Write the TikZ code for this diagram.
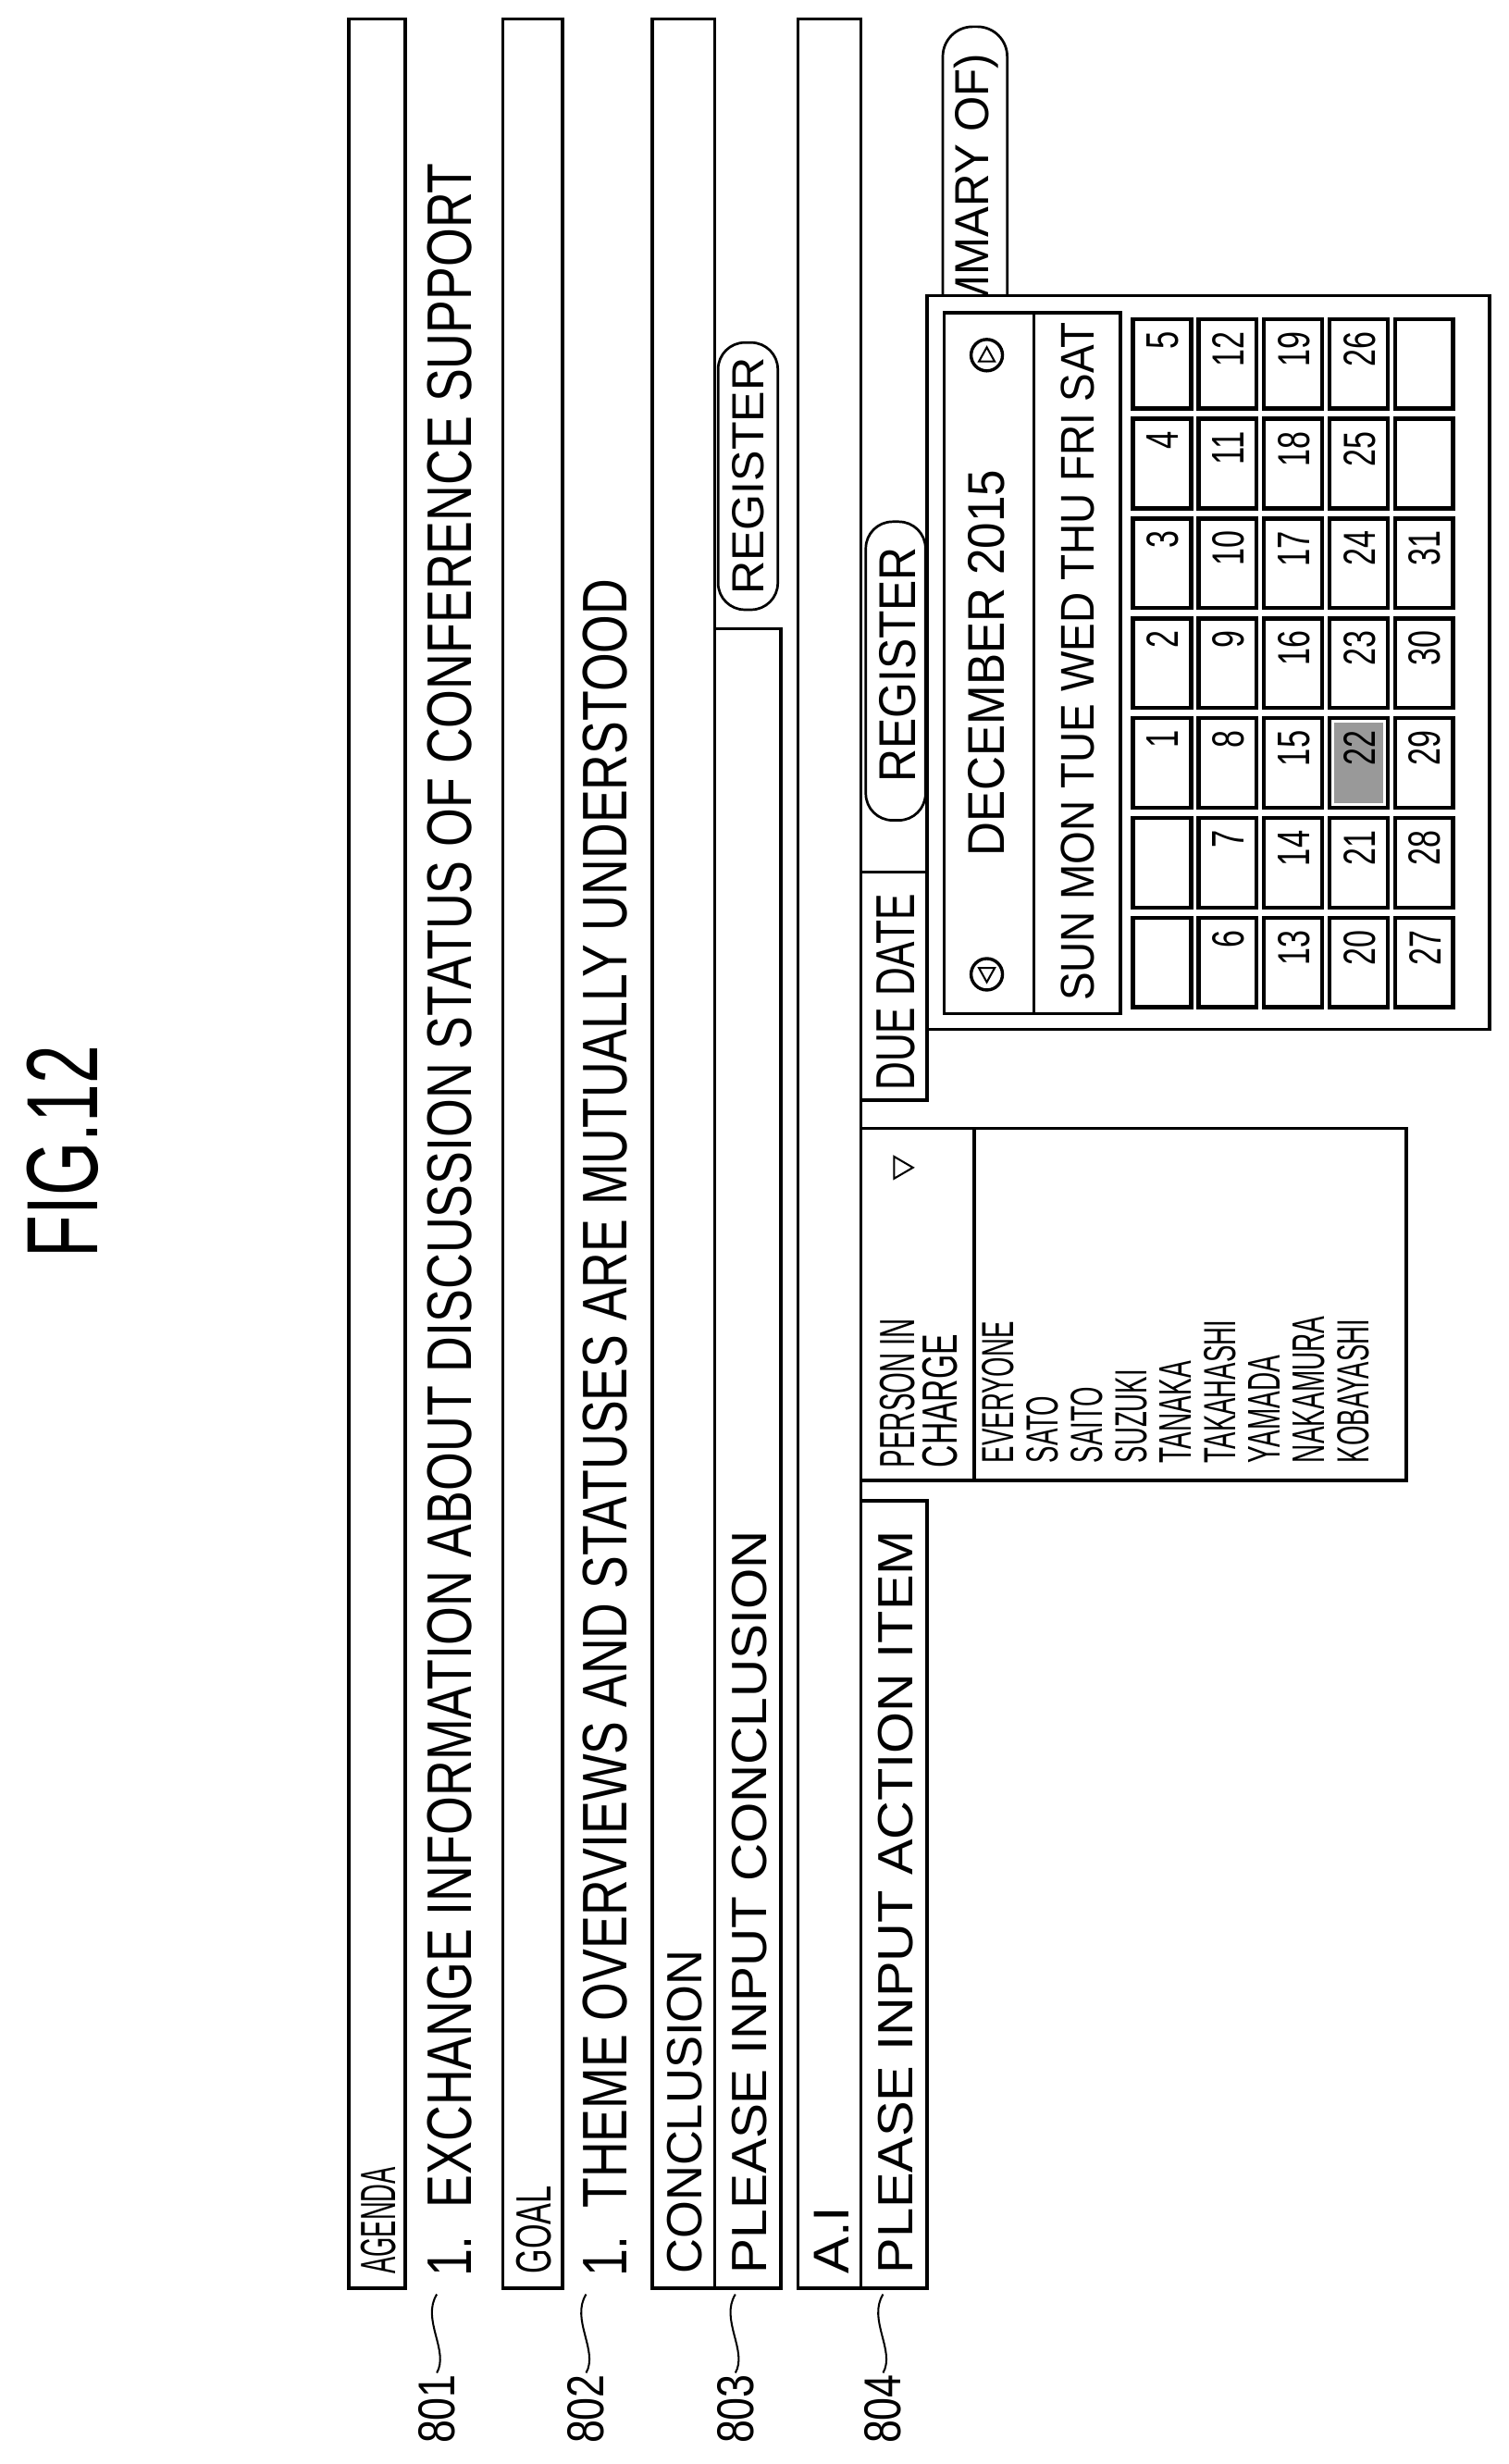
\documentclass[tikz,border=0pt]{standalone}
\usepackage{fontspec}
\setmainfont{Liberation Sans}[FakeStretch=0.7]
\usetikzlibrary{positioning}
\tikzset{field/.style = {draw, line width=2pt}}
\tikzset{txt/.style = {rotate=90, inner sep=0pt, anchor=west}}
\tikzset{button/.style = {draw, line width=1.6pt, rounded corners=17pt}}
\tikzset{cell/.style = {draw, line width=2.6pt}}
\newcommand{\fit}[3]{\resizebox{#1pt}{#2pt}{#3}}
\newcommand{\hfit}[2]{\resizebox{!}{#1pt}{#2}}
\begin{document}
\begin{tikzpicture}[x=1pt, y=1pt, line width=2pt]
  \useasboundingbox (0,0) rectangle (960,-1568);
  \node [txt, anchor=center] (fig) at (40,-733) {\fit{135}{45}{FIG.12}};

  % agenda and goal
  \draw [field] (222,-12) rectangle (258,-1456);
  \node [txt] (agenda) at (241,-1448) {\fit{68}{22}{AGENDA}};
  \node [txt] (item1) at (286,-1450) {\fit{1345}{28}{1.\ \ EXCHANGE INFORMATION ABOUT DISCUSSION STATUS OF CONFERENCE SUPPORT}};
  \draw [field] (320,-12) rectangle (358,-1456);
  \node [txt] (goal) at (340,-1448) {\fit{56}{22}{GOAL}};
  \node [txt] (item2) at (385,-1450) {\fit{1080}{28}{1.\ \ THEME OVERVIEWS AND STATUSES ARE MUTUALLY UNDERSTOOD}};

  % conclusion
  \draw [field] (415,-12) rectangle (455,-1456);
  \node [txt] (concl) at (436,-1448) {\fit{206}{22}{CONCLUSION}};
  \draw [field] (455,-400) rectangle (497,-1456);
  \node [txt] (conclin) at (477,-1448) {\fit{473}{22}{PLEASE INPUT CONCLUSION}};
  \draw [button] (457,-218) rectangle (495,-388);
  \node [txt, anchor=center] (reg1) at (476,-303) {\fit{151}{20}{REGISTER}};

  % action item
  \draw [field] (508,-12) rectangle (548,-1456);
  \node [txt] (ai) at (529,-1448) {\fit{43}{22}{A.I}};
  \draw [field] (548,-955) rectangle (590,-1456);
  \node [txt] (aiin) at (570,-1448) {\fit{473}{22}{PLEASE INPUT ACTION ITEM}};
  \draw [field] (548,-718) rectangle (895,-942);
  \draw [field] (620,-718) -- (620,-942);
  \node [txt] (person) at (571,-935) {\fit{95}{22}{PERSON IN}};
  \node [txt] (charge) at (598,-935) {\fit{85}{22}{CHARGE}};
  \draw [line width=1.2pt] (569,-736) -- (569,-750) -- (581,-743) -- cycle;
  \foreach \name [count=\i from 0] in {EVERYONE,SATO,SAITO,SUZUKI,TANAKA,TAKAHASHI,YAMADA,NAKAMURA,KOBAYASHI}
    \node [txt] (name\i) at (635+28.3*\i,-932) {\scalebox{0.81}[1]{\hfit{20}{\name}}};
  \draw [field] (548,-555) rectangle (590,-700);
  \node [txt] (due) at (570,-695) {\fit{125}{24}{DUE DATE}};
  \draw [button] (551,-332) rectangle (589,-522);
  \node [txt, anchor=center] (reg2) at (571,-423) {\fit{150}{23}{REGISTER}};
  \draw [button, rounded corners=19pt] (600,-17) rectangle (641,-300);
  \node [txt, anchor=east] (summary) at (621,-33) {\fit{215}{22}{(SUMMARY OF)}};

  % calendar
  \draw [field, fill=white] (590,-188) rectangle (948,-655);
  \draw [field] (601,-199) rectangle (713,-645);
  \draw [field] (658,-199) -- (658,-645);
  \node [txt, anchor=center] (month) at (628,-422) {\fit{246}{23}{DECEMBER 2015}};
  \node [draw, circle, minimum size=20pt, inner sep=0pt] (prev) at (628,-620) {};
  \node [draw, circle, minimum size=20pt, inner sep=0pt] (next) at (628,-226) {};
  \draw [line width=1.2pt] (623,-616) -- (633,-616) -- (628,-625) -- cycle;
  \draw [line width=1.2pt] (623,-230) -- (633,-230) -- (628,-221) -- cycle;
  \node [txt, anchor=center] (week) at (686,-421) {\fit{432}{21}{SUN MON TUE WED THU FRI SAT}};
  \foreach \r in {0,...,4}
    \foreach \c in {0,...,6} {
      \pgfmathtruncatemacro{\day}{7*\r+\c-1}
      \pgfmathsetmacro{\xa}{721+41.7*\r}
      \pgfmathsetmacro{\yb}{641-63.5*\c}
      \ifnum\day=22
        \fill [black!40] (\xa+3,-\yb+3) rectangle (\xa+34,-\yb+54);
      \fi
      \draw [cell] (\xa,-\yb) rectangle (\xa+37,-\yb+57);
      \ifnum\day>0 \ifnum\day<32
        \node [txt, anchor=east] (day\day) at (\xa+19,-\yb+50) {\hfit{20}{\day}};
      \fi\fi
    }

  % reference labels
  \foreach \lab/\x in {801/278,802/373,803/468,804/562} {
    \node [txt] (l\lab) at (\x,-1556) {\fit{44}{23}{\lab}};
    \draw [line width=1.2pt] (l\lab.east) .. controls +(8,14) and +(-10,-16) .. +(0,50);
  }
\end{tikzpicture}
\end{document}
